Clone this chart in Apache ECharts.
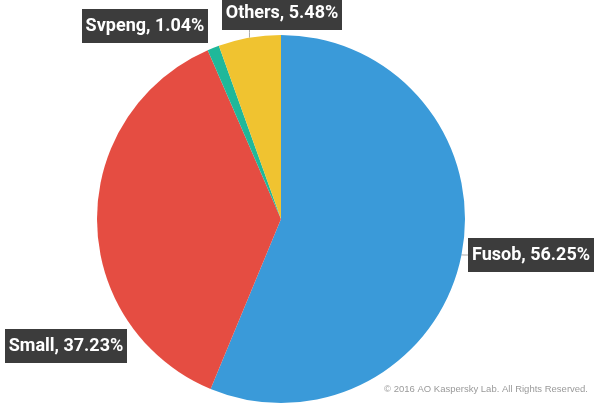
<!DOCTYPE html>
<html>
<head>
<meta charset="utf-8">
<script src="https://cdn.jsdelivr.net/npm/echarts@6/dist/echarts.min.js"></script>
<style>
html, body { margin: 0; padding: 0; background: #fff; }
#chart { width: 600px; height: 407px; }
</style>
</head>
<body>
<div id="chart"></div>
<script>
// 数据
var names = ['Fusob', 'Small', 'Svpeng', 'Others'];
var values = [56.25, 37.23, 1.04, 5.48];
var colors = ['#3a9ad9', '#e54d42', '#1fb89a', '#f0c330'];

// 标签框中心位置（样式）
var labelPos = [[531, 255], [66, 346], [145, 26], [282, 13]];

var labelFont = 'bold 18px Roboto, sans-serif';
var ctx = document.createElement('canvas').getContext('2d');
ctx.font = labelFont;
function labelText(i) { return names[i] + ', ' + values[i].toFixed(2) + '%'; }

var chart = echarts.init(document.getElementById('chart'));

var data = names.map(function (n, i) {
    return {
        name: n,
        value: values[i],
        itemStyle: { color: colors[i] },
        // 固定宽度，避免饼图自动截断标签
        label: { width: Math.ceil(ctx.measureText(labelText(i)).width) + 1 },
        labelLine: { show: i === 0 || i === 3 }
    };
});

var option = {
    animation: false,
    graphic: [{
        type: 'text',
        right: 12,
        top: 384,
        style: {
            text: '\u00a9 2016 AO Kaspersky Lab. All Rights Reserved.',
            fill: '#9a9a9a',
            font: '9.5px "Liberation Sans", sans-serif'
        }
    }],
    series: [{
        type: 'pie',
        center: [281, 219],
        radius: 184,
        startAngle: 90,
        clockwise: true,
        data: data,
        label: {
            show: true,
            position: 'outside',
            overflow: 'none',
            formatter: function (p) { return labelText(p.dataIndex); },
            color: '#fff',
            fontFamily: 'Roboto, sans-serif',
            fontWeight: 'bold',
            fontSize: 18,
            lineHeight: 22,
            align: 'center',
            backgroundColor: '#3c3c3c',
            padding: [7, 3, 5, 3]
        },
        labelLine: {
            show: true,
            length: 6,
            length2: 4,
            lineStyle: { color: '#aaaaaa', width: 1 }
        },
        labelLayout: function (params) {
            var p = labelPos[params.dataIndex];
            var res = { x: p[0], y: p[1], align: 'center', verticalAlign: 'middle' };
            // Others 的引导线竖直向上
            if (params.dataIndex === 3 && params.labelLinePoints) {
                var s = params.labelLinePoints[0];
                res.labelLinePoints = [[s[0], s[1]], [s[0], s[1] - 5], [s[0], p[1] + params.labelRect.height / 2]];
            }
            return res;
        },
        emphasis: { disabled: true }
    }]
};

chart.setOption(option);
window.addEventListener('resize', function () { chart.resize(); });
</script>
</body>
</html>
